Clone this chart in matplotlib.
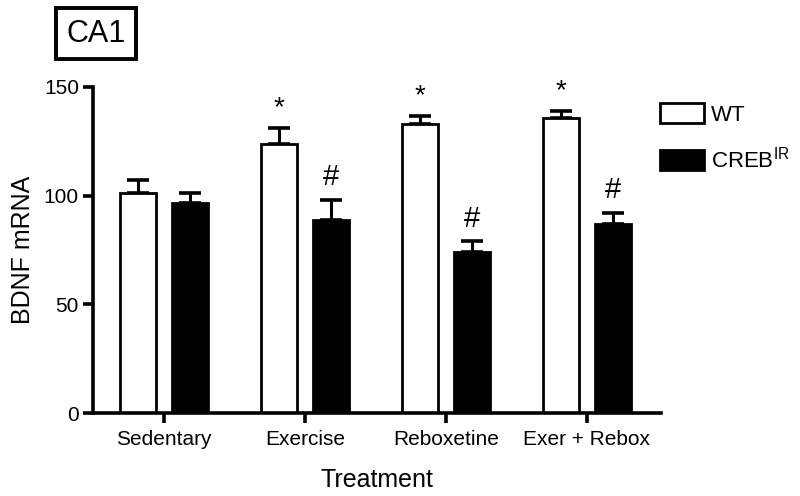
import matplotlib
matplotlib.use("Agg")
import matplotlib.pyplot as plt
from matplotlib.patches import Patch
import numpy as np

plt.rcParams['font.family'] = ['Liberation Sans', 'DejaVu Sans']

categories = ["Sedentary", "Exercise", "Reboxetine", "Exer + Rebox"]
wt_mean = [101, 123.5, 133, 135.5]
wt_sem = [6, 7.5, 3.5, 3.5]
creb_mean = [96.5, 89, 74, 87]
creb_sem = [4.5, 9, 5, 5]
wt_marks = ["", "*", "*", "*"]
creb_marks = ["", "#", "#", "#"]
yticks = [0, 50, 100, 150]

fs_tick = 15
fs_lab = 17

fig = plt.figure(figsize=(8, 4.96), dpi=100)
ax = fig.add_axes([0.116, 0.167, 0.71, 0.6579])

x = np.arange(len(categories))
off = 0.184
w = 0.255
lw_bar = 2.0

ax.bar(x - off, wt_mean, w, color="white", edgecolor="black", linewidth=lw_bar, zorder=2)
ax.bar(x + off, creb_mean, w, color="black", edgecolor="black", linewidth=lw_bar, zorder=2)
ax.errorbar(x - off, wt_mean, yerr=[np.zeros(4), wt_sem], fmt="none", ecolor="black",
            elinewidth=2.2, capsize=8, capthick=2.6, zorder=1)
ax.errorbar(x + off, creb_mean, yerr=[np.zeros(4), creb_sem], fmt="none", ecolor="black",
            elinewidth=2.2, capsize=8, capthick=2.6, zorder=1)

for i in range(4):
    if wt_marks[i]:
        ax.text(x[i] - off, wt_mean[i] + wt_sem[i] + 3, wt_marks[i], ha="center", va="bottom",
                fontsize=20)
    if creb_marks[i]:
        ax.text(x[i] + off, creb_mean[i] + creb_sem[i] + 4, creb_marks[i], ha="center", va="bottom",
                fontsize=21)

ax.set_xlim(-0.504, 3.525)
ax.set_ylim(0, 150)
ax.set_yticks(yticks)
ax.set_yticklabels([str(v) for v in yticks], fontsize=fs_tick)
ax.set_xticks(x)
ax.set_xticklabels(categories, fontsize=fs_tick)
for s in ["top", "right"]:
    ax.spines[s].set_visible(False)
for s in ["left", "bottom"]:
    ax.spines[s].set_linewidth(2.6)
ax.tick_params(axis="both", direction="out", length=7, width=2.6, pad=3)
ax.tick_params(axis="x", pad=5)
ax.set_ylabel("BDNF mRNA", fontsize=fs_lab + 1, labelpad=6)
ax.set_xlabel("Treatment", fontsize=fs_lab + 1, labelpad=14)

handles = [Patch(facecolor="white", edgecolor="black", linewidth=2),
           Patch(facecolor="black", edgecolor="black", linewidth=2)]
leg = fig.legend(handles, ["WT", "CREB$^{\\mathregular{IR}}$"], loc="upper left",
                 bbox_to_anchor=(0.805, 0.823), frameon=False, fontsize=fs_tick + 1,
                 handlelength=2.0, handleheight=1.0, labelspacing=0.95, handletextpad=0.3,
                 borderpad=0.2)

fig.text(0.12, 0.932, "CA1", fontsize=22, ha="center", va="center",
         bbox=dict(boxstyle="square,pad=0.35", facecolor="white", edgecolor="black", linewidth=2.8))

fig.savefig("out.png", dpi=100)
